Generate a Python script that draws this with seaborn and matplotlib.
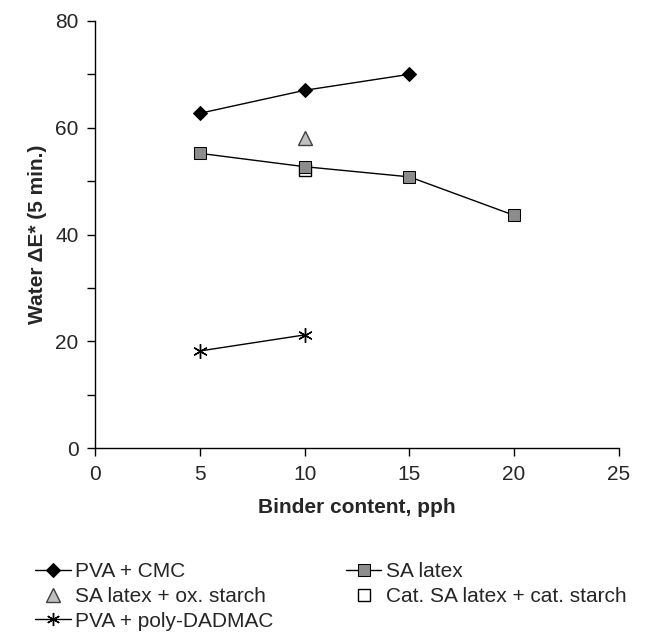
import matplotlib
matplotlib.use("Agg")
import matplotlib.pyplot as plt
import seaborn as sns
from matplotlib.ticker import MultipleLocator

# data
pva_cmc_x = [5, 10, 15]
pva_cmc_y = [62.7, 67.0, 70.0]

sa_latex_x = [5, 10, 15, 20]
sa_latex_y = [55.2, 52.7, 50.8, 43.6]

sa_ox_x = [10]
sa_ox_y = [58.0]

cat_sa_x = [10]
cat_sa_y = [52.0]

pva_dadmac_x = [5, 10]
pva_dadmac_y = [18.2, 21.2]

sns.set_style("white")
plt.rcParams['font.family'] = ['Liberation Sans', 'DejaVu Sans']

fig = plt.figure(figsize=(6.52, 6.33), dpi=100)
ax = fig.add_axes([0.146, 0.292, 0.803, 0.675])

# lines with markers
sns.lineplot(x=pva_cmc_x, y=pva_cmc_y, ax=ax, color='black', lw=1,
             marker='D', markersize=7.5, markerfacecolor='black',
             markeredgecolor='black', label='PVA + CMC')
sns.lineplot(x=sa_latex_x, y=sa_latex_y, ax=ax, color='black', lw=1,
             marker='s', markersize=9, markerfacecolor='#8c8c8c',
             markeredgecolor='black', label='SA latex', zorder=4)
ax.plot(sa_ox_x, sa_ox_y, ls='none', marker='^', markersize=10.5,
        markerfacecolor='#c0c0c0', markeredgecolor='#404040',
        label='SA latex + ox. starch')
ax.plot(cat_sa_x, cat_sa_y, ls='none', marker='s', markersize=9,
        markerfacecolor='white', markeredgecolor='black',
        label='Cat. SA latex + cat. starch', zorder=3)
sns.lineplot(x=pva_dadmac_x, y=pva_dadmac_y, ax=ax, color='black', lw=1,
             marker=(6, 2, 0), markersize=10.5, markeredgecolor='black',
             markeredgewidth=1, label='PVA + poly-DADMAC')

ax.set_xlim(0, 25)
ax.set_ylim(0, 80)
ax.xaxis.set_major_locator(MultipleLocator(5))
ax.yaxis.set_major_locator(MultipleLocator(20))
ax.yaxis.set_minor_locator(MultipleLocator(10))

for s in ['top', 'right']:
    ax.spines[s].set_visible(False)
for s in ['left', 'bottom']:
    ax.spines[s].set_color('black')
    ax.spines[s].set_linewidth(1)

ax.tick_params(axis='both', which='both', direction='out', length=6,
               width=1, color='black', labelsize=15, bottom=True, left=True)
ax.tick_params(axis='x', pad=6)
ax.tick_params(axis='y', pad=6)

ax.set_xlabel('Binder content, pph', fontsize=15, fontweight='bold', labelpad=10)
ax.set_ylabel('Water ΔE* (5 min.)', fontsize=15, fontweight='bold', labelpad=6)

handles, labels = ax.get_legend_handles_labels()
# legend fills column by column
order = ['PVA + CMC', 'SA latex + ox. starch', 'PVA + poly-DADMAC',
         'SA latex', 'Cat. SA latex + cat. starch']
hmap = dict(zip(labels, handles))
if ax.get_legend():
    ax.get_legend().remove()
fig.legend([hmap[o] for o in order], order, ncol=2, frameon=False,
           loc='upper left', bbox_to_anchor=(0.054, 0.112), fontsize=15,
           handlelength=1.7, handletextpad=0.2, columnspacing=3.5,
           labelspacing=0.28, borderaxespad=0, borderpad=0, markerscale=0.9)

fig.savefig('out.png', dpi=100)
